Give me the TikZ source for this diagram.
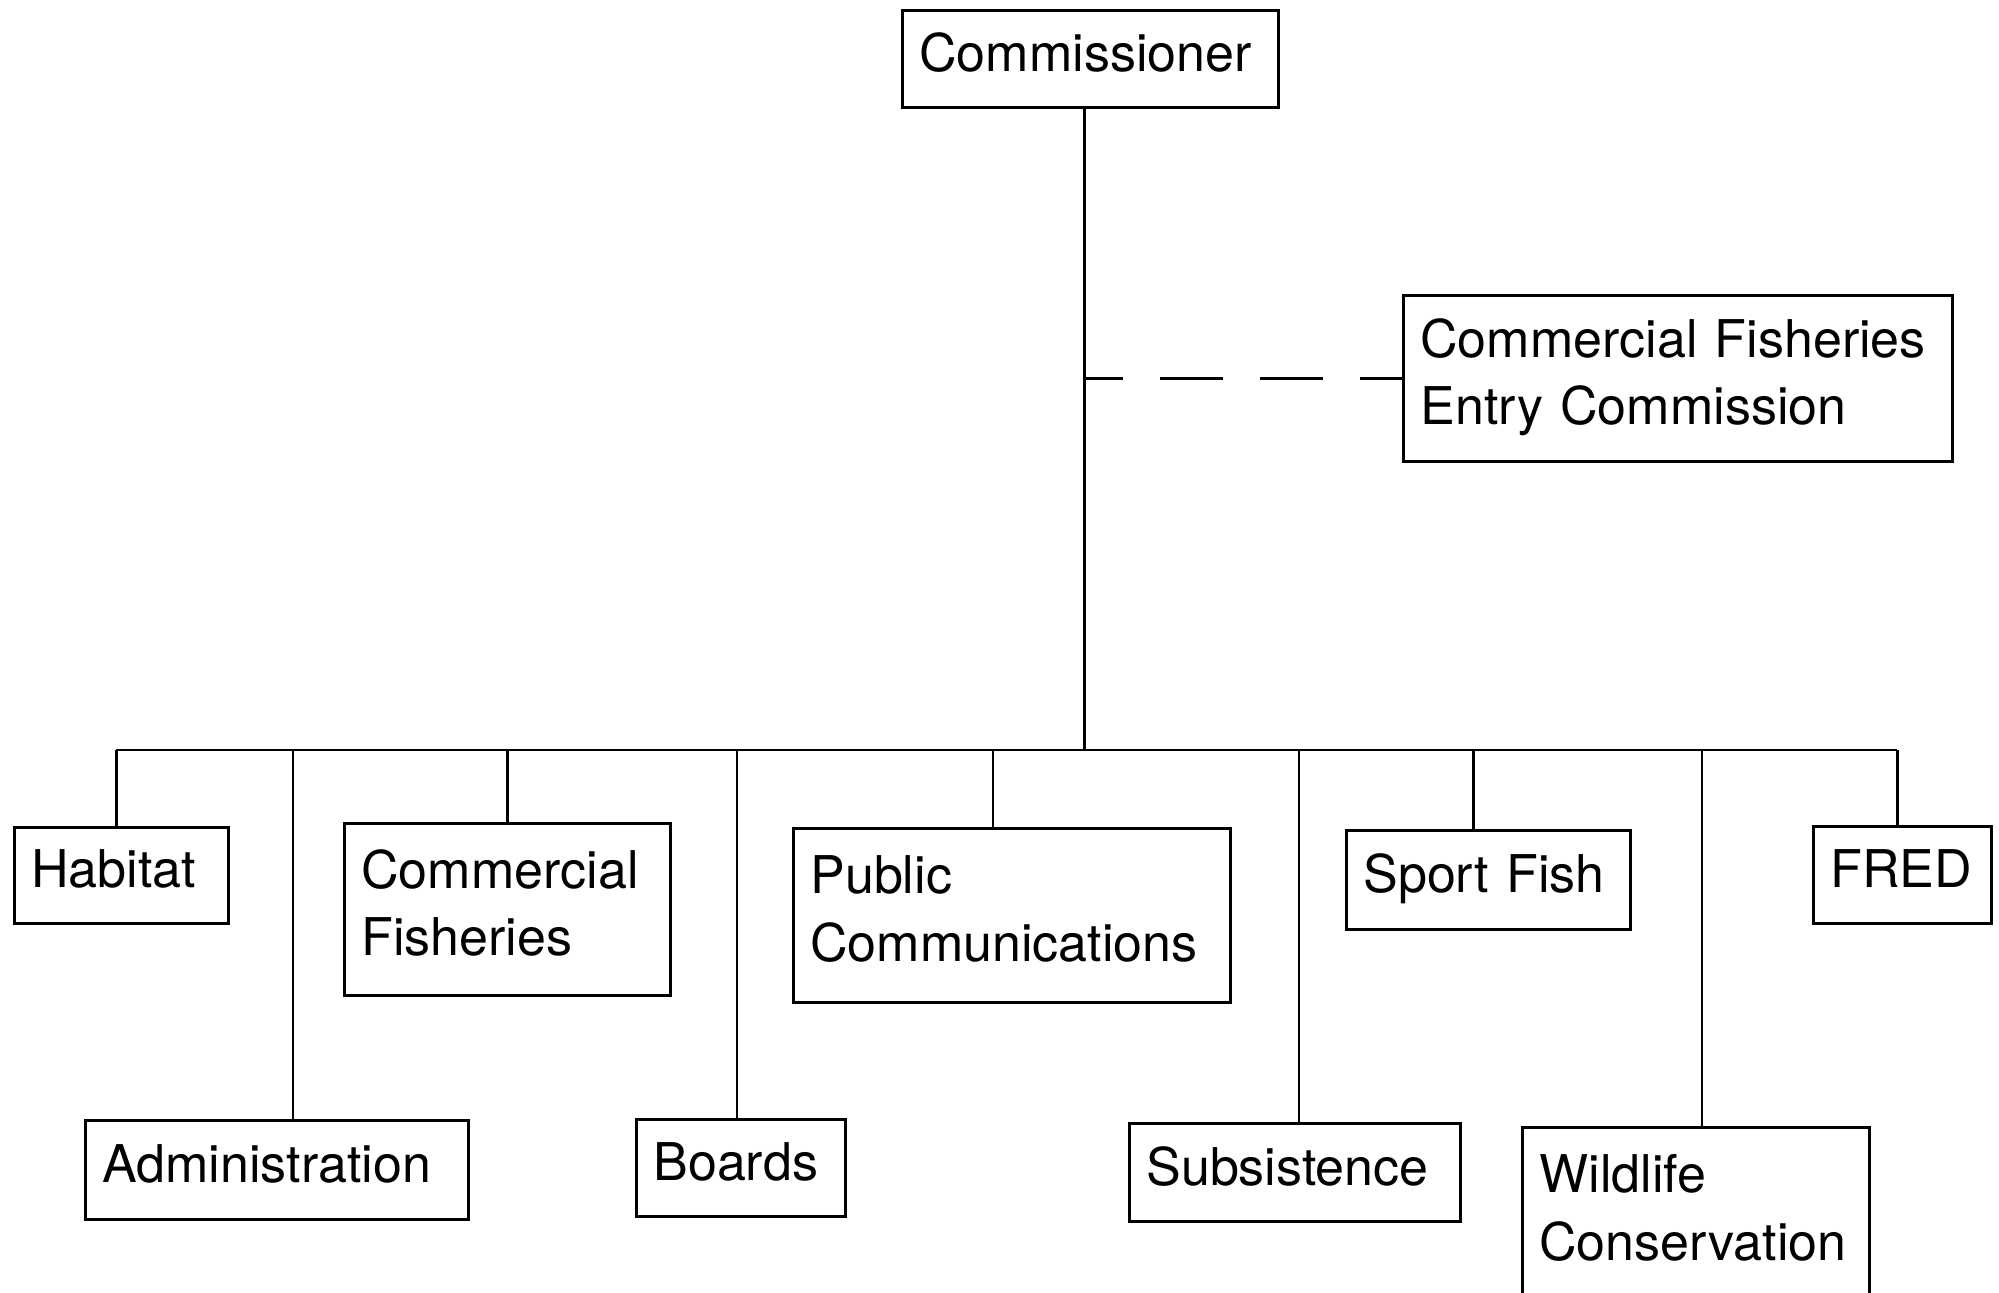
\documentclass[tikz,border=0pt]{standalone}
\usepackage{fontspec}
\setmainfont{TeX Gyre Heros}
\usetikzlibrary{calc}
\tikzset{
  office/.style = {draw, line width=0.8pt, anchor=north west, inner xsep=0.17cm, inner ysep=0pt, text depth=0.13cm, align=left, font=\fontsize{14.8}{19.2}\selectfont},
  twoline/.style = {text depth=0.81cm},
  link/.style = {line width=0.8pt},
  staffline/.style = {line width=0.8pt, dash pattern=on 0.63cm off 0.37cm, dash phase=0.24cm},
}
\begin{document}
\begin{tikzpicture}
      \useasboundingbox (0,0) rectangle (19.99,-12.93);

      \node[office, text width=3.42cm, minimum height=0.97cm] (comm) at (9.01,-0.09) {Commissioner};
      \node[office, twoline, text width=5.15cm, minimum height=1.66cm] (cfec) at (14.02,-2.94) {Commercial~Fisheries\\Entry~Commission};

      % divisions, upper row
      \node[office, text width=1.80cm, minimum height=0.96cm] (habitat) at (0.13,-8.26) {Habitat};
      \node[office, twoline, text width=2.92cm, minimum height=1.72cm] (comfish) at (3.43,-8.22) {Commercial\\Fisheries};
      \node[office, twoline, text width=4.03cm, minimum height=1.74cm] (pubcom) at (7.92,-8.27) {Public\\Communications};
      \node[office, text width=2.50cm, minimum height=0.99cm] (sportfish) at (13.45,-8.29) {Sport~Fish};
      \node[office, text width=1.44cm, minimum height=0.97cm] (fred) at (18.12,-8.25) {FRED};

      % divisions, lower row
      \node[office, text width=3.49cm, minimum height=0.99cm] (admin) at (0.84,-11.19) {Administration};
      \node[office, text width=1.75cm, minimum height=0.97cm] (boards) at (6.35,-11.18) {Boards};
      \node[office, text width=2.97cm, minimum height=0.98cm] (subsist) at (11.28,-11.22) {Subsistence};
      \node[office, twoline, text width=3.13cm, minimum height=1.74cm] (wildlife) at (15.21,-11.26) {Wildlife\\Conservation};

      \path ($(comm.south)+(-0.06,0)$) coordinate (top);
      \draw[link] (top) -- (top |- 0,-7.50) coordinate (hub);
      \draw[staffline] (top |- cfec.west) -- (cfec.west);

      \foreach \n/\dx in {habitat/-0.05, admin/0.16, comfish/0, boards/-0.04, pubcom/-0.19, subsist/0.04, sportfish/-0.15, wildlife/0.06, fred/-0.05} {
        \path ($(\n.north)+(\dx,0)$) coordinate (d-\n);
        \draw[link] (d-\n) -- (d-\n |- hub);
      }
      \draw[link] (d-habitat |- hub) -- (d-fred |- hub);
\end{tikzpicture}
\end{document}
